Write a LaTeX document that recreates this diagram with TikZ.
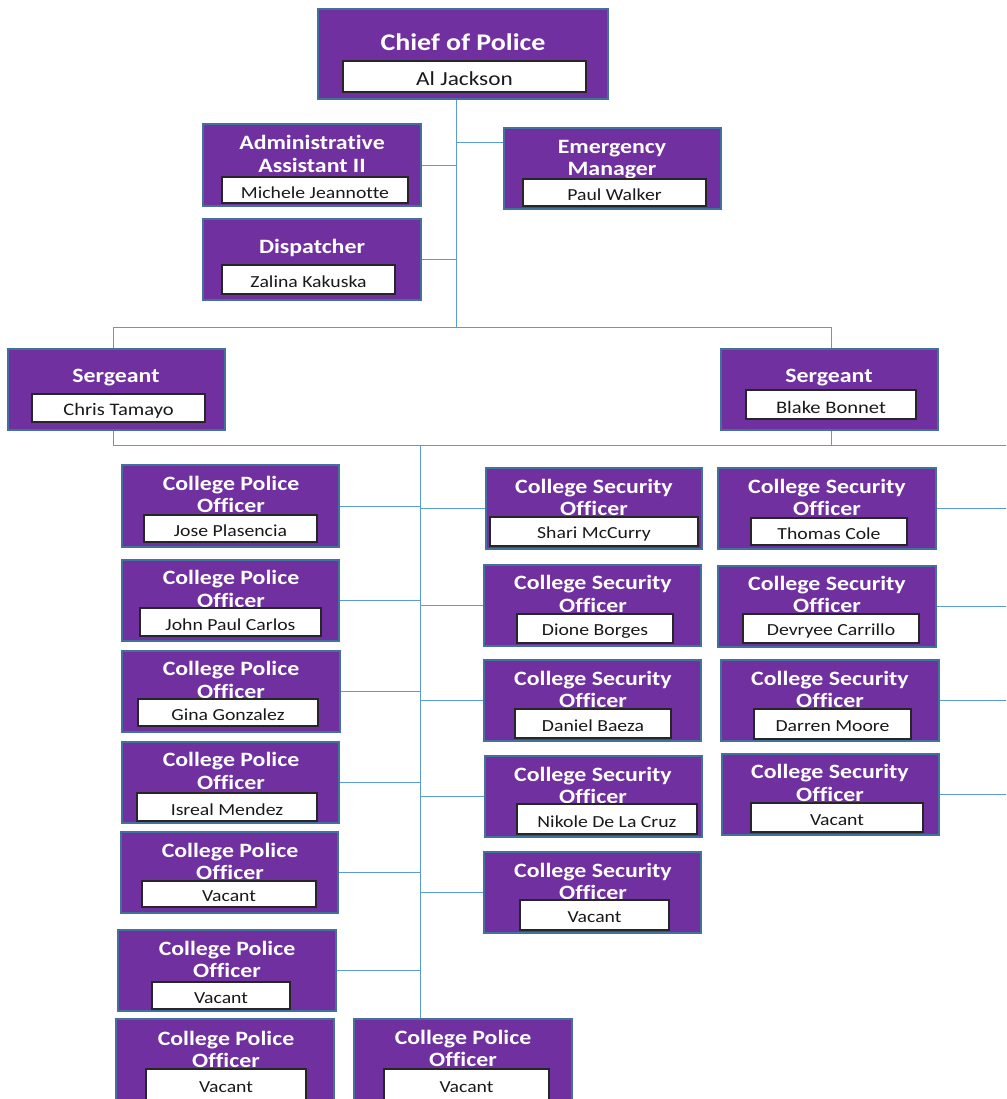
\documentclass[tikz,border=0pt]{standalone}
\usepackage{fontspec}
\setmainfont{Carlito}[FakeStretch=1.17, Ligatures=NoCommon]
\usetikzlibrary{calc,fit}
\definecolor{postpurple}{HTML}{7030A0}
\definecolor{postedge}{HTML}{41719C}
\definecolor{linkblue}{HTML}{5B9BD5}
\tikzset{
	postbox/.style={draw=postedge, fill=postpurple, line width=1pt, inner sep=0pt},
	namebox/.style={draw=black!85, fill=white, line width=0.9pt, inner sep=0pt},
	titletext/.style={text=white, font=\bfseries\fontsize{17.4}{19.2}\selectfont, align=center, inner sep=0pt},
	nametext/.style={text=black!90, font=\fontsize{14.4}{16}\selectfont, inner sep=0pt, yshift=-2.2pt},
	link/.style={draw=linkblue, line width=0.8pt}
}
\def\post#1(#2)(#3)(#4)#5(#6)(#7)#8{%
	\node[postbox, fit={(#2) (#3)}] (#1) {};
	\node[titletext] (#1t) at (#4) {#5};
	\node[namebox, fit={(#6) (#7)}] (#1n) {};
	\node[nametext] (#1l) at (#1n.center) {#8};
}

\begin{document}
\begin{tikzpicture}[x=0.03cm, y=-0.03cm]
		%%%%% START %%%%%
		\useasboundingbox (0,0) rectangle (1006,1099);
		\clip (0,0) rectangle (1006,1099);
		
		\begin{scope}[titletext/.append style={font=\bfseries\fontsize{20.4}{23}\selectfont},
			nametext/.append style={font=\fontsize{17}{19}\selectfont}]
			\post{chief}(318,9)(608,99)(463,42){Chief of Police}(343,61)(586,92){Al Jackson}
		\end{scope}
		
		\post{admin}(203,124)(421,206)(312,154){Administrative\\Assistant II}(222,177)(408,203){Michele Jeannotte}
		\post{emerg}(504,128)(721,209)(612,159.5){Emergency\\Manager}(523,179)(706,206){Paul Walker}
		\post{disp}(203,219)(421,300)(312,248){Dispatcher}(222,265)(395,294){Zalina Kakuska}
		
		\begin{scope}[nametext/.append style={font=\fontsize{15}{17}\selectfont}]
			\post{sgtL}(8,349)(225,430)(116,378){Sergeant}(32,394)(205,422){Chris Tamayo}
			\post{sgtR}(721,349)(938,430)(829,378){Sergeant}(746,390)(916,419){Blake Bonnet}
		\end{scope}
		
		% police officers
		\post{cpoA}(122,465)(339,547)(231,494.5){College Police\\Officer}(144,515)(317,542){Jose Plasencia}
		\post{cpoB}(122,560)(339,641)(231,589){College Police\\Officer}(140,608)(321,636){John Paul Carlos}
		\post{cpoC}(122,651)(340,732)(231,680){College Police\\Officer}(138,699)(318,726){Gina Gonzalez}
		\post{cpoD}(122,742)(339,823)(231,771){College Police\\Officer}(137,793)(317,821){Isreal Mendez}
		\post{cpoE}(121,832)(338,913)(230,861.5){College Police\\Officer}(142,881)(316,907){Vacant}
		\post{cpoF}(118,930)(336,1011)(227,959.5){College Police\\Officer}(152,982)(290,1009){Vacant}
		\post{cpoG}(116,1019)(334,1120)(226,1049.5){College Police\\Officer}(146,1069)(306,1101){Vacant}
		\post{cpoH}(354,1019)(572,1120)(463,1048.5){College Police\\Officer}(384,1069)(549,1101){Vacant}
		
		% security officers
		\post{csoA}(486,468)(702,549)(594,497.5){College Security\\Officer}(490,517)(698,546){Shari McCurry}
		\post{csoB}(484,565)(701,646)(593,594){College Security\\Officer}(517,614)(673,643){Dione Borges}
		\post{csoC}(484,660)(701,741)(593,689.5){College Security\\Officer}(515,709)(671,738){Daniel Baeza}
		\post{csoD}(485,756)(702,837)(593,785.5){College Security\\Officer}(517,804)(697,834){Nikole De La Cruz}
		\post{csoE}(484,852)(701,933)(593,881.5){College Security\\Officer}(520,900)(669,930){Vacant}
		
		\post{csoF}(718,468)(936,549)(827,497.5){College Security\\Officer}(751,518)(907,545){Thomas Cole}
		\post{csoG}(718,566)(936,647)(827,594.5){College Security\\Officer}(743,614)(919,643){Devryee Carrillo}
		\post{csoH}(721,660)(939,741)(830,689.5){College Security\\Officer}(754,709)(911,739){Darren Moore}
		\post{csoI}(722,754)(939,835)(830,783){College Security\\Officer}(751,803)(923,832){Vacant}
		
		% joints
		\coordinate (hubA) at (456,327);
		\coordinate (emk) at (456,142);
		\coordinate (sgL) at (113,327);
		\coordinate (sgR) at (831,327);
		\coordinate (baseL) at (113,445);
		\coordinate (baseR) at (831,445);
		\coordinate (baseE) at (1006,445);
		\coordinate (hubB) at (420,445);
		
		\draw[link] (chief.south -| hubA) -- (hubA);
		\draw[link] (admin.east) -- (admin.east -| hubA);
		\draw[link] (disp.east) -- (disp.east -| hubA);
		\draw[link] (emk) -- (emk -| emerg.west);
		
		\draw[link] (sgL |- sgtL.north) -- (sgL) -- (sgR) -- (sgR |- sgtR.north);
		\draw[link] (baseL |- sgtL.south) -- (baseL) -- (baseE);
		\draw[link] (baseR |- sgtR.south) -- (baseR);
		\draw[link] (hubB) -- (hubB |- cpoH.north);
		
		\foreach \p in {cpoA,cpoB,cpoC,cpoD,cpoE,cpoF}
			\draw[link] (\p.east) -- (\p.east -| hubB);
		\foreach \p in {csoA,csoB,csoC,csoD,csoE}
			\draw[link] (\p.west) -- (\p.west -| hubB);
		\foreach \p in {csoF,csoG,csoH,csoI}
			\draw[link] (\p.east) -- (\p.east -| baseE);
		
		%%%%% END %%%%%
\end{tikzpicture}
\end{document}
